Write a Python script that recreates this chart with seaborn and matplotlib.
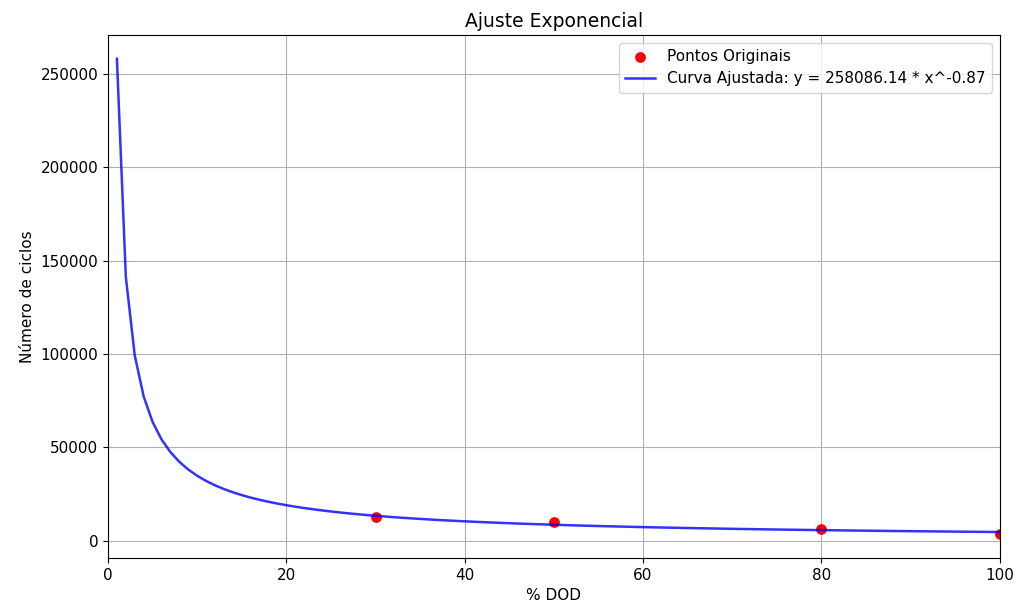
import numpy as np
import pandas as pd
import matplotlib
matplotlib.use("Agg")
import matplotlib.pyplot as plt
import seaborn as sns

# pontos originais
dod = [30, 50, 80, 100]
ciclos = [12600, 10300, 6200, 3500]

# parâmetros do ajuste (da legenda)
a = 258086.14
b = -0.87
x_curva = np.arange(1, 101)
y_curva = a * x_curva ** b

df_pts = pd.DataFrame({"dod": dod, "ciclos": ciclos})
df_curva = pd.DataFrame({"x": x_curva, "y": y_curva})

plt.rcParams["font.size"] = 11

fig, ax = plt.subplots(figsize=(10.16, 6.07), dpi=100)
fig.subplots_adjust(left=0.1063, right=0.984, top=0.9423, bottom=0.0807)

sns.scatterplot(data=df_pts, x="dod", y="ciclos", color="red", s=60,
                linewidth=0, label="Pontos Originais", ax=ax, zorder=2)
sns.lineplot(data=df_curva, x="x", y="y", color="blue", alpha=0.8,
             linewidth=1.8, label=f"Curva Ajustada: y = {a:.2f} * x^{b:.2f}",
             ax=ax, zorder=3)

ax.set_xlim(0, 100)
ax.set_title("Ajuste Exponencial", fontsize=13.5)
ax.set_xlabel("% DOD")
ax.set_ylabel("Número de ciclos")
ax.grid(True)
ax.legend(loc="upper right")

plt.savefig("out.png")
